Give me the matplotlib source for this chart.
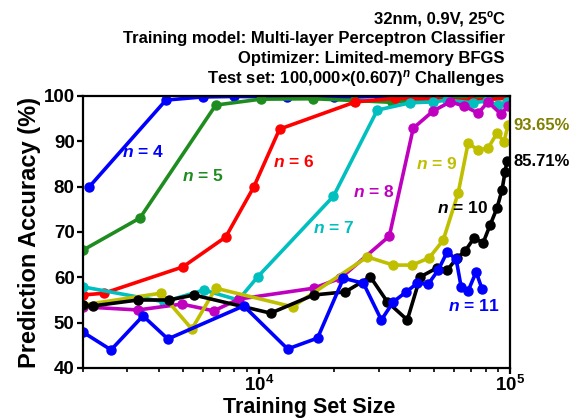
import matplotlib
matplotlib.use('Agg')
import matplotlib.pyplot as plt
from matplotlib.ticker import FixedLocator, NullFormatter, FixedFormatter

plt.rcParams['font.family'] = ['Liberation Sans', 'DejaVu Sans']
plt.rcParams['font.weight'] = 'bold'
plt.rcParams['mathtext.fontset'] = 'custom'
plt.rcParams['mathtext.rm'] = 'Liberation Sans:bold'
plt.rcParams['mathtext.it'] = 'Liberation Sans:italic:bold'
plt.rcParams['mathtext.bf'] = 'Liberation Sans:bold'
plt.rcParams['mathtext.bfit'] = 'Liberation Sans:italic:bold'

# ---------------- data ----------------
n4_x = [2113, 4276, 6000, 8000, 13000, 20000, 30000, 45000, 70000, 100000]
n4_y = [79.9, 99.1, 99.8, 99.9, 99.8, 99.7, 99.9, 100, 100, 100]

n5_x = [2000, 3372, 6750, 10180, 16500, 24000, 34000, 50000, 70000, 100000]
n5_y = [66.0, 73.1, 98.0, 99.3, 99.4, 99.0, 98.6, 99.3, 99.5, 99.6]

n6_x = [2000, 2426, 4993, 7396, 9555, 12110, 24260, 35000, 50000, 70000, 98000]
n6_y = [56.1, 56.5, 62.3, 68.9, 79.9, 92.7, 98.7, 99.5, 99.3, 99.0, 99.5]

n7_x = [2000, 4200, 6050, 8300, 9908, 19840, 29660, 40110, 49480, 56234, 71330, 81030, 89640, 97300]
n7_y = [57.9, 54.6, 57.2, 55.0, 60.1, 77.9, 96.9, 98.5, 98.7, 99.1, 98.5, 98.9, 98.0, 98.7]

n8_x = [2000, 3310, 4948, 6629, 8329, 16532, 21160, 33100, 41220, 49480, 57810, 65690, 74650, 81770, 92120, 98190]
n8_y = [53.5, 52.8, 54.1, 52.6, 55.2, 57.6, 59.8, 69.1, 92.9, 96.7, 98.7, 97.8, 96.2, 98.7, 96.0, 97.8]

n9_x = [2000, 4083, 5423, 6750, 13640, 27070, 34341, 40830, 47710, 54230, 62190, 68129, 74650, 81770, 88800, 94660, 98190]
n9_y = [53.9, 56.5, 48.6, 57.6, 53.5, 64.5, 62.7, 62.7, 64.3, 68.2, 78.6, 89.6, 88.1, 88.5, 91.8, 89.9, 93.65]

n10_x = [2000, 2194, 3310, 4394, 5524, 11160, 16532, 22140, 27826, 32500, 39027, 43950, 51320, 56234,
         61620, 66290, 71970, 78150, 83290, 88800, 92960, 95540, 97300]
n10_y = [53.9, 53.7, 55.0, 55.0, 56.1, 52.1, 56.1, 56.8, 60.1, 54.6, 50.6, 60.1, 62.1, 61.6,
         64.3, 65.8, 68.7, 67.6, 71.5, 75.3, 79.3, 83.2, 85.71]

n11_x = [2000, 2586, 3465, 4353, 8720, 13037, 17147, 21745, 26104, 30771, 34341, 38672, 42755, 47277,
         51810, 56234, 61054, 63912, 68129, 73311, 77426]
n11_y = [47.9, 44.0, 51.5, 46.4, 53.7, 44.2, 46.6, 59.8, 58.7, 50.6, 54.6, 56.8, 58.7, 58.5,
         61.6, 65.6, 64.0, 57.9, 57.0, 61.2, 57.4]

series = [
    ("4", n4_x, n4_y, "#0000FF"),
    ("5", n5_x, n5_y, "#1E8C1E"),
    ("6", n6_x, n6_y, "#FF0000"),
    ("7", n7_x, n7_y, "#00BFBF"),
    ("8", n8_x, n8_y, "#BF00BF"),
    ("9", n9_x, n9_y, "#BFBF00"),
    ("10", n10_x, n10_y, "#000000"),
    ("11", n11_x, n11_y, "#0000FF"),
]

x_ticks_major = [1e4, 1e5]
x_tick_labels = [r"$\mathbf{10^4}$", r"$\mathbf{10^5}$"]
y_ticks = [40, 50, 60, 70, 80, 90, 100]

title_lines = [
    "32nm, 0.9V, 25\u00baC",
    "Training model: Multi-layer Perceptron Classifier",
    "Optimizer: Limited-memory BFGS",
    "Test set: 100,000\u00d7(0.607)$^{\\mathit{n}}$ Challenges",
]

# ---------------- figure ----------------
fig = plt.figure(figsize=(5.75, 4.2), dpi=100)
ax = fig.add_axes([83 / 575, 1 - 368 / 420, (510 - 83) / 575, (368 - 96) / 420])

for name, xs, ys, col in series:
    ax.plot(xs, ys, color=col, lw=2.6, marker='o', ms=6.5, mec=col, mfc=col)

ax.set_xscale('log')
ax.set_xlim(2000, 1e5)
ax.set_ylim(40, 100)

ax.xaxis.set_major_locator(FixedLocator(x_ticks_major))
ax.xaxis.set_major_formatter(FixedFormatter(x_tick_labels))
minor = [m * 10 ** e for e in (3, 4) for m in range(2, 10)]
ax.xaxis.set_minor_locator(FixedLocator(minor))
ax.xaxis.set_minor_formatter(NullFormatter())
ax.set_yticks(y_ticks)

for s in ax.spines.values():
    s.set_linewidth(1.6)
ax.tick_params(axis='both', which='major', direction='out', length=4, width=1.6,
               labelsize=13.5, pad=2)
ax.tick_params(axis='x', which='major', pad=1)
ax.tick_params(axis='x', which='minor', direction='out', length=3, width=1.2)
for lab in ax.get_yticklabels():
    lab.set_fontweight('bold')

ax.set_xlabel("Training Set Size", fontsize=15.5, fontweight='bold', labelpad=0)
ax.xaxis.set_label_coords((309 - 83) / 427, -0.108)
ax.set_ylabel("Prediction Accuracy (%)", fontsize=17, fontweight='bold', labelpad=2)

# title block
for i, line in enumerate(title_lines):
    fig.text(505 / 575, 1 - (23 + 20 * i) / 420, line, ha='right', va='baseline',
             fontsize=12, fontweight='bold')

# n labels
n_labels = [
    ("4", 143, 152, "#0000FF"),
    ("5", 203, 176, "#1E8C1E"),
    ("6", 294, 162, "#FF0000"),
    ("7", 334, 228, "#00BFBF"),
    ("8", 374, 192, "#BF00BF"),
    ("9", 437, 164, "#BFBF00"),
    ("10", 462, 208, "#000000"),
    ("11", 474, 306, "#0000FF"),
]
for txt, px, py, col in n_labels:
    fig.text(px / 575, 1 - py / 420, r"$\mathbfit{n}$ = " + txt, ha='center', va='center',
             fontsize=12.5, fontweight='bold', color=col)

fig.text(542 / 575, 1 - 126 / 420, "93.65%", ha='center', va='center', fontsize=12,
         fontweight='bold', color='#808000')
fig.text(542 / 575, 1 - 162 / 420, "85.71%", ha='center', va='center', fontsize=12,
         fontweight='bold', color='#000000')

fig.savefig("out.png", dpi=100)
